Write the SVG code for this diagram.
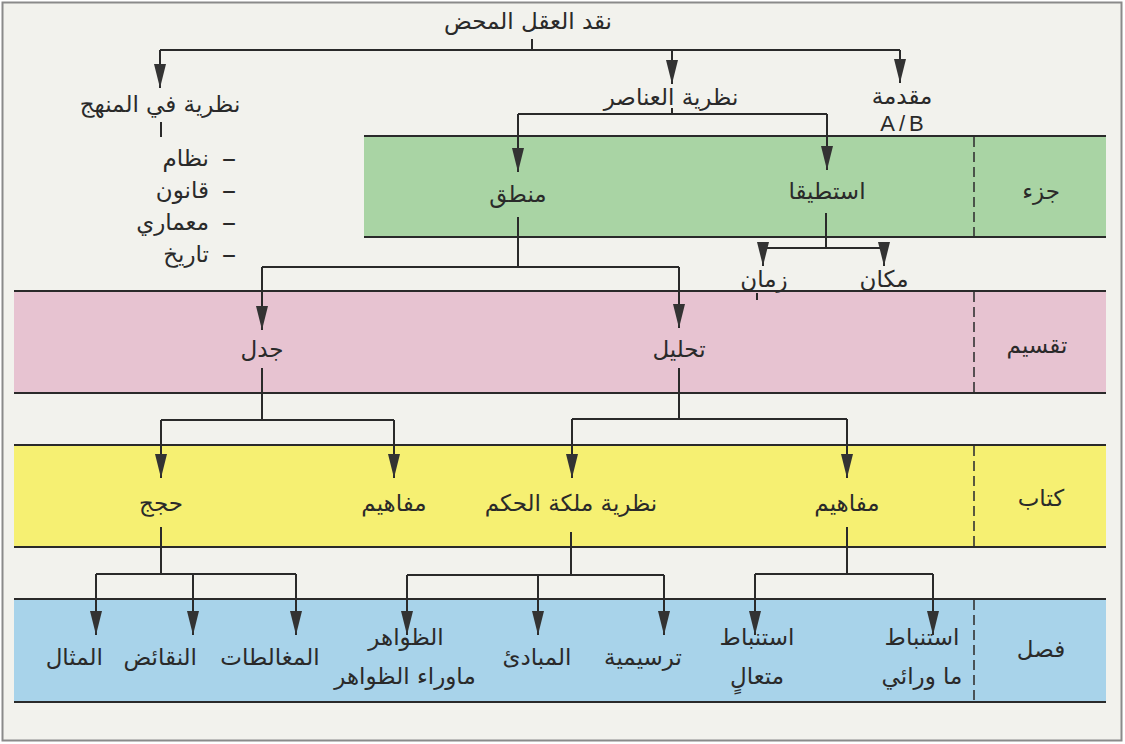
<svg xmlns="http://www.w3.org/2000/svg" width="1125" height="744" viewBox="0 0 1125 744">
<defs>
<style>
.t{font-family:"DejaVu Sans","Noto Sans",sans-serif;font-size:23px;fill:#2a2a2a;text-anchor:middle}
.e{text-anchor:end}
.d{font-family:"DejaVu Sans","Noto Sans",sans-serif;font-size:29px;fill:#2a2a2a;text-anchor:middle}
.l{font-family:"Liberation Sans",Arial,sans-serif;font-size:22px;letter-spacing:4px;fill:#2a2a2a;text-anchor:middle}
.c{stroke:#2a2a2a;stroke-width:2;fill:none}
.a{stroke:#2a2a2a;stroke-width:2;fill:none;marker-end:url(#ah)}
.edge{stroke:#2a2a2a;stroke-width:2}
.dash{stroke:#333;stroke-width:1.6;stroke-dasharray:10 5}
</style>
<marker id="ah" viewBox="0 0 24 12" refX="24" refY="6" markerWidth="24" markerHeight="12" markerUnits="userSpaceOnUse" orient="auto">
<path d="M0,0 L24,6 L0,12 z" fill="#333"/>
</marker>
</defs>
<rect x="2.5" y="2.5" width="1119" height="738" fill="#f2f2ed" stroke="#8a8a8a" stroke-width="2"/>

<g id="bands">
<rect x="364" y="136" width="742" height="101" fill="#a9d4a4"/>
<line class="edge" x1="364" y1="136" x2="1106" y2="136"/>
<line class="edge" x1="364" y1="237" x2="1106" y2="237"/>
<line class="dash" x1="974" y1="137" x2="974" y2="236"/>
<rect x="14" y="291" width="1092" height="102" fill="#e7c3d1"/>
<line class="edge" x1="14" y1="291" x2="1106" y2="291"/>
<line class="edge" x1="14" y1="393" x2="1106" y2="393"/>
<line class="dash" x1="974" y1="292" x2="974" y2="392"/>
<rect x="14" y="445" width="1092" height="102" fill="#f6f072"/>
<line class="edge" x1="14" y1="445" x2="1106" y2="445"/>
<line class="edge" x1="14" y1="547" x2="1106" y2="547"/>
<line class="dash" x1="974" y1="446" x2="974" y2="546"/>
<rect x="14" y="599" width="1092" height="103" fill="#a8d3ea"/>
<line class="edge" x1="14" y1="599" x2="1106" y2="599"/>
<line class="edge" x1="14" y1="702" x2="1106" y2="702"/>
<line class="dash" x1="974" y1="600" x2="974" y2="701"/>
</g>

<g id="connectors">
<path class="c" d="M532,39 V50 M160,50 H900"/>
<path class="a" d="M160,50 V88"/>
<path class="a" d="M672,50 V84"/>
<path class="a" d="M900,50 V83"/>
<path class="c" d="M161,122 V137"/>
<path class="c" d="M672,108 V114 M518,114 H827"/>
<path class="a" d="M518,114 V172"/>
<path class="a" d="M827,114 V170"/>
<path class="c" d="M518,217 V267 M262,267 H679"/>
<path class="a" d="M262,267 V330"/>
<path class="a" d="M679,267 V328"/>
<path class="c" d="M826,213 V248 M763,248 H884"/>
<path class="a" d="M763,248 V266"/>
<path class="a" d="M884,248 V266"/>
<path class="c" d="M757,293 V300"/>
<path class="c" d="M262,368 V420 M161,420 H394"/>
<path class="a" d="M161,420 V478"/>
<path class="a" d="M394,420 V478"/>
<path class="c" d="M679,368 V419 M572,419 H847"/>
<path class="a" d="M572,419 V478"/>
<path class="a" d="M847,419 V478"/>
<path class="c" d="M161,527 V574 M96,574 H296"/>
<path class="a" d="M96,574 V635"/>
<path class="a" d="M193,574 V635"/>
<path class="a" d="M296,574 V635"/>
<path class="c" d="M571,532 V575 M407,575 H664"/>
<path class="a" d="M407,575 V635"/>
<path class="a" d="M538,575 V635"/>
<path class="a" d="M664,575 V635"/>
<path class="c" d="M847,527 V574 M755,574 H933"/>
<path class="a" d="M755,574 V635"/>
<path class="a" d="M933,574 V635"/>
</g>

<g id="row-labels">
<text class="t" x="1041" y="199">جزء</text>
<text class="t" x="1037" y="353">تقسيم</text>
<text class="t" x="1041" y="506">كتاب</text>
<text class="t" x="1041" y="657">فصل</text>
</g>

<g id="n-root"><text class="t" x="528" y="29">نقد العقل المحض</text></g>
<g id="n-method"><text class="t" x="160" y="112">نظرية في المنهج</text></g>
<g id="n-list">
<text class="d" x="229" y="168">–</text><text class="t e" x="209" y="166">نظام</text>
<text class="d" x="229" y="200">–</text><text class="t e" x="209" y="198">قانون</text>
<text class="d" x="229" y="232">–</text><text class="t e" x="209" y="230">معماري</text>
<text class="d" x="229" y="264">–</text><text class="t e" x="209" y="262">تاريخ</text>
</g>
<g id="n-elements"><text class="t" x="671" y="105">نظرية العناصر</text></g>
<g id="n-intro"><text class="t" x="902" y="104">مقدمة</text><text class="l" x="904" y="131">A/B</text></g>
<g id="n-logic"><text class="t" x="518" y="202">منطق</text></g>
<g id="n-aesthetic"><text class="t" x="827" y="199">استطيقا</text></g>
<g id="n-time"><text class="t" x="764" y="287">زمان</text></g>
<g id="n-space"><text class="t" x="884" y="287">مكان</text></g>
<g id="n-dialectic"><text class="t" x="262" y="357">جدل</text></g>
<g id="n-analytic"><text class="t" x="679" y="357">تحليل</text></g>
<g id="n-arguments"><text class="t" x="161" y="511">حجج</text></g>
<g id="n-concepts1"><text class="t" x="394" y="511">مفاهيم</text></g>
<g id="n-judgment"><text class="t" x="571" y="511">نظرية ملكة الحكم</text></g>
<g id="n-concepts2"><text class="t" x="847" y="511">مفاهيم</text></g>
<g id="n-ideal"><text class="t e" x="103" y="665">المثال</text></g>
<g id="n-antinomies"><text class="t e" x="197" y="665">النقائض</text></g>
<g id="n-paralogisms"><text class="t" x="270" y="665">المغالطات</text></g>
<g id="n-phenomena"><text class="t" x="406" y="645">الظواهر</text><text class="t" x="405" y="684">ماوراء الظواهر</text></g>
<g id="n-principles"><text class="t" x="537" y="665">المبادئ</text></g>
<g id="n-schematism"><text class="t" x="643" y="665">ترسيمية</text></g>
<g id="n-transc"><text class="t" x="757" y="645">استنباط</text><text class="t" x="757" y="684">متعالٍ</text></g>
<g id="n-meta"><text class="t" x="922" y="645">استنباط</text><text class="t" x="922" y="684">ما ورائي</text></g>
</svg>
